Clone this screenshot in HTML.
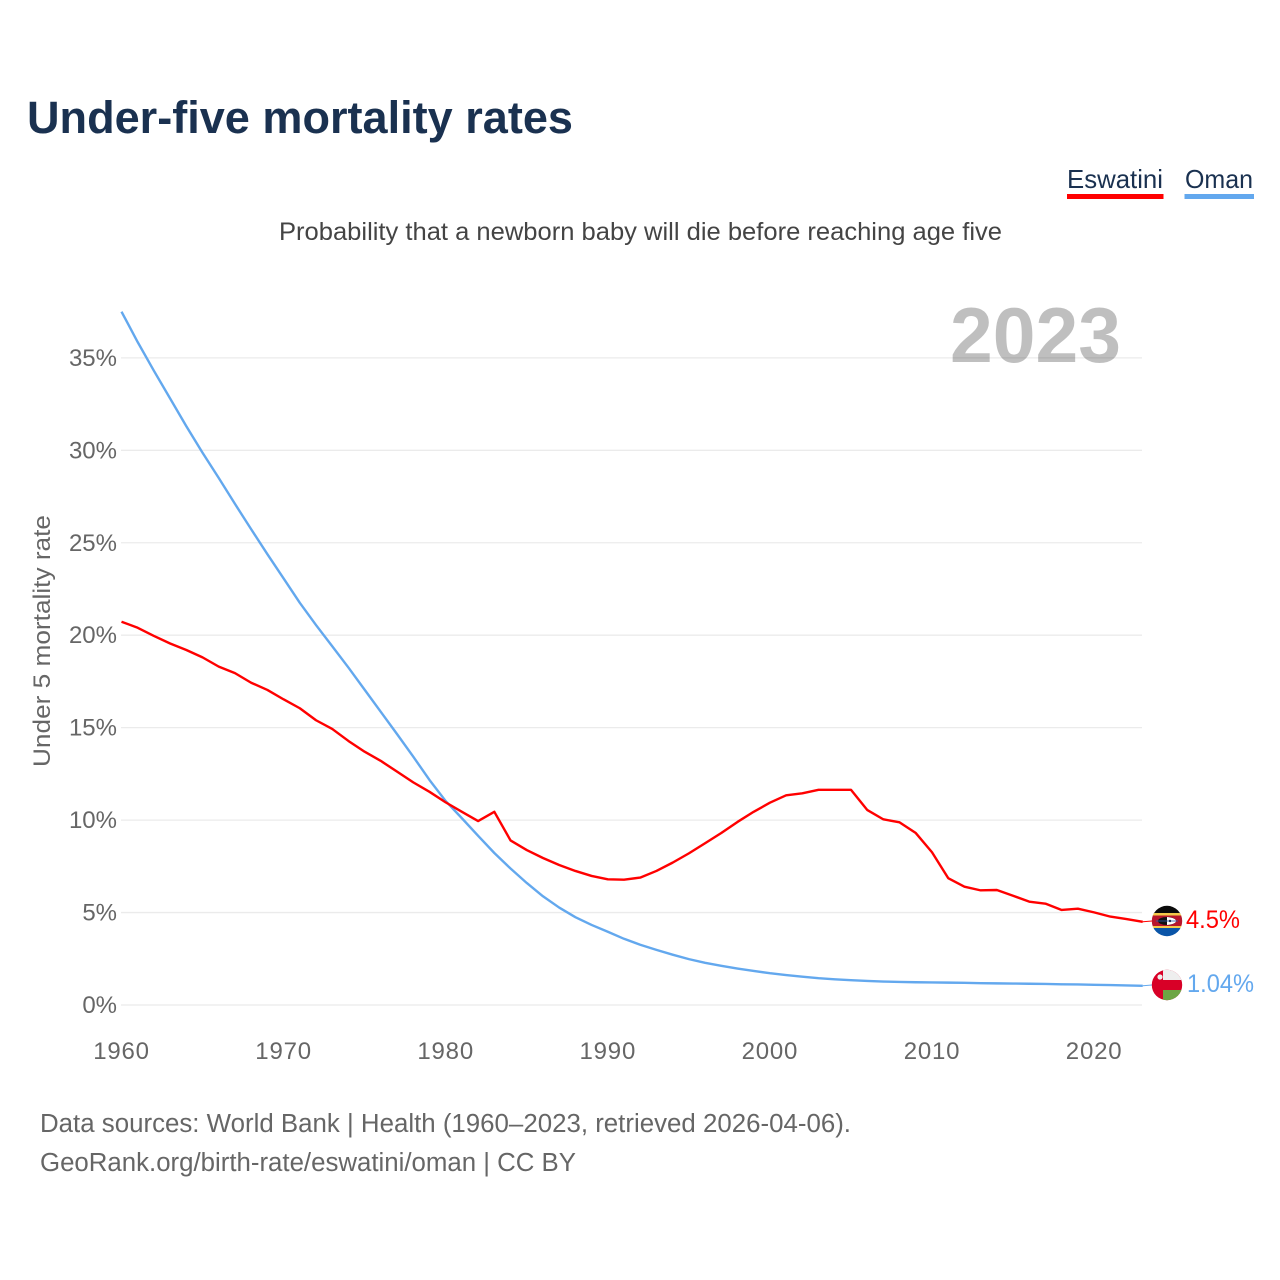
<!DOCTYPE html>
<html lang="en">
<head>
<meta charset="utf-8">
<title>Under-five mortality rates</title>
<style>
html,body{margin:0;padding:0;background:#fff;}
svg{display:block;font-family:"Liberation Sans",sans-serif;}
</style>
</head>
<body>
<svg id="chart" width="1280" height="1280" viewBox="0 0 1280 1280" xmlns="http://www.w3.org/2000/svg">
  <defs>
    <clipPath id="flag-clip-a"><circle cx="1167" cy="921" r="15.2"/></clipPath>
    <clipPath id="flag-clip-b"><circle cx="1167" cy="985" r="15.2"/></clipPath>
  </defs>
  <rect width="1280" height="1280" fill="#fff"/>
  <text x="27" y="133" font-size="45" font-weight="700" fill="#1a3150" textLength="546" lengthAdjust="spacingAndGlyphs">Under-five mortality rates</text>
  <g>
    <text x="1067" y="188" font-size="26" fill="#1a3150" textLength="96" lengthAdjust="spacingAndGlyphs">Eswatini</text>
    <rect x="1067" y="194" width="96.5" height="5" fill="#ff0000"/>
  </g>
  <g>
    <text x="1185" y="188" font-size="26" fill="#1a3150" textLength="68" lengthAdjust="spacingAndGlyphs">Oman</text>
    <rect x="1184.5" y="194" width="69.5" height="5" fill="#63a8ee"/>
  </g>
  <text x="279" y="240" font-size="25" fill="#444" textLength="723" lengthAdjust="spacingAndGlyphs">Probability that a newborn baby will die before reaching age five</text>
  <g id="grid"></g>
  <text x="950" y="362" font-size="78" font-weight="700" fill="#000" fill-opacity="0.25" textLength="171" lengthAdjust="spacingAndGlyphs">2023</text>
  <g id="ylabels"></g>
  <g id="xlabels"></g>
  <text transform="translate(50,767) rotate(-90)" x="0" y="0" font-size="24" fill="#666" textLength="252" lengthAdjust="spacingAndGlyphs">Under 5 mortality rate</text>
  <g id="series"></g>
  <g clip-path="url(#flag-clip-a)">
    <rect x="1150" y="904" width="34" height="10" fill="#0b0b0b"/>
    <rect x="1150" y="913" width="34" height="3" fill="#f3c94a"/>
    <rect x="1150" y="915.5" width="34" height="11" fill="#b8162c"/>
    <rect x="1150" y="926" width="34" height="2" fill="#f3c94a"/>
    <rect x="1150" y="928" width="34" height="10" fill="#0a55a8"/>
    <ellipse cx="1167" cy="921" rx="9" ry="4" fill="#111"/>
    <path d="M1167 917 Q1176 918 1176 921 Q1176 924 1167 925Z" fill="#fff"/>
    <circle cx="1170" cy="921" r="1.2" fill="#111"/>
    <rect x="1156" y="920.4" width="22" height="1.2" fill="#2d5da8" opacity=".7"/>
  </g>
  <g clip-path="url(#flag-clip-b)">
    <rect x="1150" y="969" width="34" height="32" fill="#d80027"/>
    <rect x="1163" y="969" width="21" height="11" fill="#eeeeee"/>
    <rect x="1163" y="990" width="21" height="11" fill="#6da544"/>
    <circle cx="1160" cy="977" r="2.6" fill="#eeeeee"/>
  </g>
  <text id="value-eswatini" x="1186" y="928" font-size="25" fill="#ff0000" textLength="54" lengthAdjust="spacingAndGlyphs">4.5%</text>
  <text id="value-oman" x="1187" y="992" font-size="25" fill="#63a8ee" textLength="67" lengthAdjust="spacingAndGlyphs">1.04%</text>
  <text x="40" y="1132" font-size="25.5" fill="#666" textLength="811" lengthAdjust="spacingAndGlyphs">Data sources: World Bank | Health (1960–2023, retrieved 2026-04-06).</text>
  <text x="40" y="1171" font-size="25.5" fill="#666" textLength="536" lengthAdjust="spacingAndGlyphs">GeoRank.org/birth-rate/eswatini/oman | CC BY</text>
</svg>
<script>
const startYear = 1960;
const yTicks = [0, 5, 10, 15, 20, 25, 30, 35];
const xTicks = [1960, 1970, 1980, 1990, 2000, 2010, 2020];
const eswatini = [20.73,20.4,19.96,19.55,19.2,18.8,18.3,17.95,17.43,17.04,16.53,16.05,15.4,14.93,14.28,13.7,13.2,12.62,12.04,11.53,10.96,10.45,9.95,10.45,8.9,8.38,7.95,7.57,7.25,6.98,6.8,6.78,6.89,7.25,7.7,8.2,8.75,9.3,9.9,10.45,10.94,11.34,11.45,11.64,11.64,11.64,10.55,10.04,9.88,9.3,8.26,6.86,6.4,6.2,6.22,5.91,5.59,5.48,5.14,5.21,5.01,4.78,4.65,4.5];
const oman = [37.5,35.85,34.3,32.8,31.3,29.87,28.5,27.1,25.73,24.38,23.07,21.75,20.55,19.4,18.25,17.05,15.85,14.65,13.43,12.17,11.03,10.1,9.15,8.22,7.38,6.6,5.88,5.27,4.75,4.33,3.96,3.58,3.26,2.98,2.72,2.48,2.28,2.12,1.97,1.84,1.72,1.62,1.53,1.45,1.39,1.34,1.3,1.27,1.25,1.23,1.22,1.21,1.2,1.18,1.17,1.16,1.15,1.14,1.12,1.11,1.09,1.08,1.06,1.04];

const NS = 'http://www.w3.org/2000/svg';
function xScale(year) { return 121.5 + (year - 1960) * 16.21; }
function yScale(pct) { return 1005 - pct * 18.49; }

const gridGroup = document.getElementById('grid');
const yLabelGroup = document.getElementById('ylabels');
const xLabelGroup = document.getElementById('xlabels');
const seriesGroup = document.getElementById('series');

yTicks.forEach(function (t) {
  const line = document.createElementNS(NS, 'line');
  
  
  line.setAttribute('x1', 121);
  line.setAttribute('x2', 1142);
  line.setAttribute('y1', yScale(t));
  line.setAttribute('y2', yScale(t));
  line.setAttribute('stroke', '#ebebeb');
  line.setAttribute('stroke-width', 1.3);
  gridGroup.appendChild(line);

  const label = document.createElementNS(NS, 'text');
  
  
  label.setAttribute('x', 117);
  label.setAttribute('y', yScale(t) + 8);
  label.setAttribute('text-anchor', 'end');
  label.setAttribute('font-size', 24);
  label.setAttribute('fill', '#666');
  label.textContent = t + '%';
  yLabelGroup.appendChild(label);
});

xTicks.forEach(function (t) {
  const label = document.createElementNS(NS, 'text');
  
  
  label.setAttribute('x', xScale(t));
  label.setAttribute('y', 1059);
  label.setAttribute('text-anchor', 'middle');
  label.setAttribute('font-size', 24);
  label.setAttribute('letter-spacing', '0.8');
  label.setAttribute('fill', '#666');
  label.textContent = String(t);
  xLabelGroup.appendChild(label);
});

function linePoints(values) {
  return values.map(function (v, i) {
    return xScale(startYear + i).toFixed(2) + ',' + yScale(v).toFixed(2);
  }).join(' ');
}

const omanLine = document.createElementNS(NS, 'polyline');


omanLine.setAttribute('points', linePoints(oman));
omanLine.setAttribute('fill', 'none');
omanLine.setAttribute('stroke', '#63a8ee');
omanLine.setAttribute('stroke-width', 2.4);
omanLine.setAttribute('stroke-linejoin', 'round');
seriesGroup.appendChild(omanLine);

const eswatiniLine = document.createElementNS(NS, 'polyline');


eswatiniLine.setAttribute('points', linePoints(eswatini));
eswatiniLine.setAttribute('fill', 'none');
eswatiniLine.setAttribute('stroke', '#ff0000');
eswatiniLine.setAttribute('stroke-width', 2.4);
eswatiniLine.setAttribute('stroke-linejoin', 'round');
seriesGroup.appendChild(eswatiniLine);

const lastYear = startYear + eswatini.length - 1;

const eswatiniConnector = document.createElementNS(NS, 'line');


eswatiniConnector.setAttribute('x1', xScale(lastYear));
eswatiniConnector.setAttribute('x2', 1152);
eswatiniConnector.setAttribute('y1', yScale(eswatini[eswatini.length - 1]));
eswatiniConnector.setAttribute('y2', 921);
eswatiniConnector.setAttribute('stroke', '#ff0000');
eswatiniConnector.setAttribute('stroke-width', 1);
seriesGroup.appendChild(eswatiniConnector);

const omanConnector = document.createElementNS(NS, 'line');


omanConnector.setAttribute('x1', xScale(lastYear));
omanConnector.setAttribute('x2', 1152);
omanConnector.setAttribute('y1', yScale(oman[oman.length - 1]));
omanConnector.setAttribute('y2', 985);
omanConnector.setAttribute('stroke', '#63a8ee');
omanConnector.setAttribute('stroke-width', 1);
seriesGroup.appendChild(omanConnector);
</script>
</body>
</html>
